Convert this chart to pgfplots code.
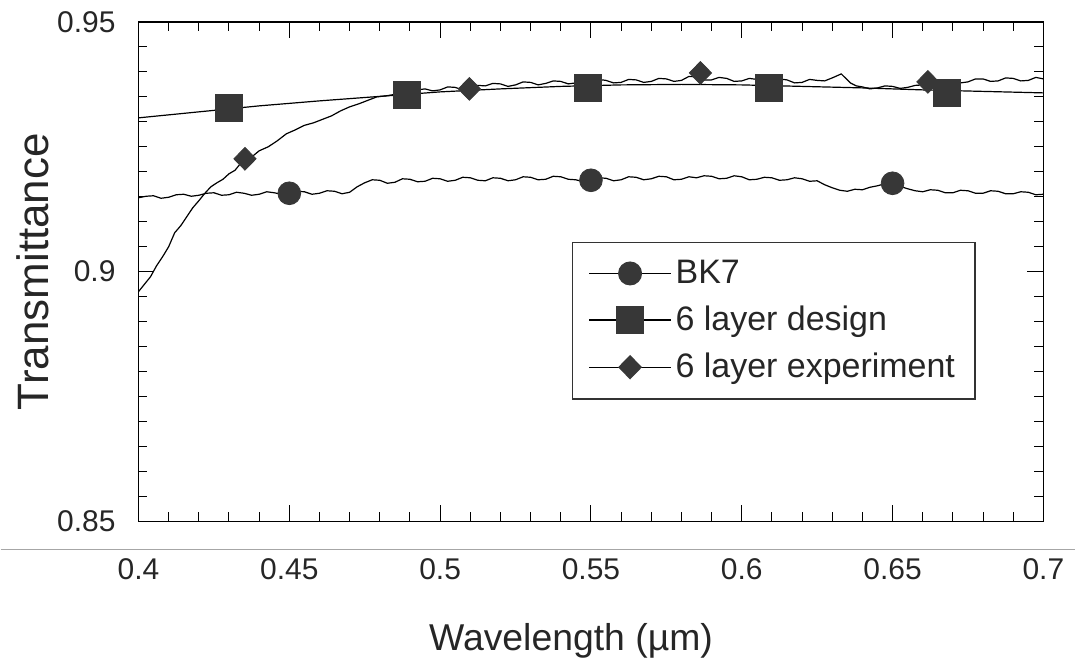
\documentclass[border=0pt]{standalone}
\usepackage{fontspec}
\setmainfont{Liberation Sans}
\usepackage{pgfplots}
\pgfplotsset{compat=1.18}
\definecolor{markgray}{RGB}{55,55,55}

\begin{document}
\begin{tikzpicture}
\begin{axis}[
    scale only axis,
    width=453pt,
    height=250pt,
    xmin=0.4, xmax=0.7,
    ymin=0.85, ymax=0.95,
    xtick={0.4,0.45,...,0.7},
    ytick={0.85,0.9,0.95},
    minor x tick num=4,
    minor y tick num=9,
    tick align=inside,
    major tick length=8pt,
    minor tick length=4.5pt,
    axis line style={line width=0.8pt},
    every tick/.style={black, line width=0.5pt},
    /pgf/number format/assume math mode=true,
    xticklabel style={font=\fontsize{15}{18}\selectfont, text=black!85},
    yticklabel style={font=\fontsize{15}{18}\selectfont, text=black!85},
    xticklabel shift=15pt,
    yticklabel shift=8pt,
    xticklabels={0.4,0.45,0.5,0.55,0.6,0.65,0.7},
    yticklabels={0.85,0.9,0.95},
    xlabel={Wavelength (µm)},
    ylabel={Transmittance},
    xlabel style={at={(axis description cs:0.478,-0.24)}, anchor=center,
        font=\fontsize{18.7}{22}\selectfont, text=black!85},
    ylabel style={at={(axis description cs:-0.117,0.5)}, anchor=center,
        font=\fontsize{22}{26}\selectfont, text=black!85},
    legend style={at={(0.479,0.56)}, anchor=north west,
        font=\fontsize{17}{20}\selectfont, text=black!85,
        draw=black!80, line width=0.6pt,
        inner xsep=8pt, inner ysep=7pt, row sep=5.8pt,
        legend cell align=left},
    legend image code/.code={
        \draw[#1, mark repeat=2, mark phase=2] plot coordinates {(0pt,0pt) (20.5pt,0pt) (41pt,0pt)};
    },
    clip=false,
]
% invisible frame so the page has the reference's proportions
\path (rel axis cs:-0.1523,-0.298) rectangle (rel axis cs:1.0353,1.044);
% scan edge line
\draw[black!35, line width=0.7pt] (rel axis cs:-0.1523,-0.056) -- (rel axis cs:1.0353,-0.056);

\addlegendimage{black, line width=0.6pt, mark=*, mark size=5.7pt, mark options={fill=markgray, draw=markgray}}
\addlegendentry{BK7}
\addlegendimage{black, line width=0.6pt, mark=square*, mark size=6.7pt, mark options={fill=markgray, draw=markgray}}
\addlegendentry{6 layer design}
\addlegendimage{black, line width=0.6pt, mark=diamond*, mark size=5.7pt, mark options={fill=markgray, draw=markgray, xscale=1.3}}
\addlegendentry{6 layer experiment}

% BK7 measured curve
\addplot[black, line width=0.6pt, no marks] coordinates {
(0.400,0.9148) (0.4025,0.9151) (0.405,0.9152) (0.4075,0.9147) (0.410,0.9149)
(0.4125,0.9154) (0.415,0.9155) (0.4175,0.9151) (0.420,0.9153) (0.4225,0.9157)
(0.425,0.9158) (0.4275,0.9153) (0.430,0.9154) (0.4325,0.9159) (0.435,0.9157)
(0.4375,0.9153) (0.440,0.9155) (0.4425,0.9160) (0.445,0.9158) (0.4475,0.9155)
(0.450,0.9156) (0.4525,0.9161) (0.455,0.9160) (0.4575,0.9155) (0.460,0.9157)
(0.4625,0.9162) (0.465,0.9161) (0.4675,0.9156) (0.470,0.9159) (0.4725,0.9170)
(0.475,0.9178) (0.4775,0.9184) (0.480,0.9183) (0.4825,0.9177) (0.485,0.9179)
(0.4875,0.9186) (0.490,0.9185) (0.4925,0.9180) (0.495,0.9181) (0.4975,0.9187)
(0.500,0.9186) (0.5025,0.9181) (0.505,0.9183) (0.5075,0.9189) (0.510,0.9188)
(0.5125,0.9183) (0.515,0.9182) (0.5175,0.9188) (0.520,0.9187) (0.5225,0.9182)
(0.525,0.9184) (0.5275,0.9190) (0.530,0.9189) (0.5325,0.9184) (0.535,0.9185)
(0.5375,0.9191) (0.540,0.9190) (0.5425,0.9185) (0.545,0.9184) (0.5475,0.9180)
(0.550,0.9183) (0.5525,0.9188) (0.555,0.9187) (0.5575,0.9182) (0.560,0.9184)
(0.5625,0.9190) (0.565,0.9189) (0.5675,0.9184) (0.570,0.9186) (0.5725,0.9191)
(0.575,0.9190) (0.5775,0.9184) (0.580,0.9185) (0.5825,0.9190) (0.585,0.9188)
(0.5875,0.9192) (0.590,0.9191) (0.5925,0.9186) (0.595,0.9187) (0.5975,0.9192)
(0.600,0.9190) (0.6025,0.9184) (0.605,0.9185) (0.6075,0.9189) (0.610,0.9188)
(0.6125,0.9183) (0.615,0.9184) (0.6175,0.9188) (0.620,0.9186) (0.6225,0.9181)
(0.625,0.9182) (0.6275,0.9174) (0.630,0.9168) (0.6325,0.9163) (0.635,0.9161)
(0.6375,0.9165) (0.640,0.9164) (0.6425,0.9169) (0.645,0.9172) (0.6475,0.9176)
(0.650,0.9177) (0.6525,0.9171) (0.655,0.9166) (0.6575,0.9162) (0.660,0.9160)
(0.6625,0.9164) (0.665,0.9163) (0.6675,0.9158) (0.670,0.9158) (0.6725,0.9163)
(0.675,0.9162) (0.6775,0.9157) (0.680,0.9157) (0.6825,0.9162) (0.685,0.9161)
(0.6875,0.9156) (0.690,0.9156) (0.6925,0.9160) (0.695,0.9159) (0.6975,0.9154)
(0.700,0.9155)
};
\addplot[only marks, mark=*, mark size=5.7pt, fill=markgray, draw=markgray, forget plot]
  coordinates {(0.45,0.9157) (0.55,0.9183) (0.65,0.9177)};

% 6 layer design (computed, smooth)
\addplot[black, line width=0.6pt, no marks] coordinates {
(0.40,0.9308) (0.42,0.9320) (0.44,0.9332) (0.46,0.9342) (0.48,0.9351)
(0.50,0.9360) (0.52,0.9366) (0.54,0.9371) (0.56,0.9374) (0.58,0.9375)
(0.60,0.9374) (0.62,0.9371) (0.64,0.9368) (0.66,0.9364) (0.68,0.9361)
(0.70,0.9358)
};
\addplot[only marks, mark=square*, mark size=6.7pt, fill=markgray, draw=markgray, forget plot]
  coordinates {(0.430,0.9328) (0.489,0.9354) (0.549,0.9368) (0.609,0.9368) (0.668,0.9358)};

% 6 layer experiment (measured)
\addplot[black, line width=0.6pt, no marks] coordinates {
(0.400,0.8960) (0.402,0.8975) (0.404,0.8990) (0.406,0.9012) (0.408,0.9030)
(0.410,0.9050) (0.412,0.9078) (0.414,0.9092) (0.416,0.9110) (0.418,0.9128)
(0.420,0.9142) (0.422,0.9157) (0.424,0.9170) (0.426,0.9178) (0.428,0.9185)
(0.430,0.9196) (0.432,0.9203) (0.434,0.9218) (0.436,0.9228) (0.438,0.9232)
(0.440,0.9242) (0.443,0.9250) (0.446,0.9262) (0.449,0.9276) (0.452,0.9284)
(0.455,0.9293) (0.458,0.9298) (0.461,0.9305) (0.464,0.9312) (0.467,0.9322)
(0.470,0.9330) (0.473,0.9336) (0.476,0.9343) (0.479,0.9350) (0.482,0.9352)
(0.485,0.9355) (0.4875,0.9358) (0.490,0.9360) (0.4925,0.9364) (0.495,0.9366)
(0.4975,0.9362) (0.500,0.9364) (0.5025,0.9370) (0.505,0.9369) (0.5075,0.9364)
(0.510,0.9367) (0.5125,0.9373) (0.515,0.9372) (0.5175,0.9377) (0.520,0.9376)
(0.5225,0.9371) (0.525,0.9374) (0.5275,0.9380) (0.530,0.9379) (0.5325,0.9374)
(0.535,0.9377) (0.5375,0.9382) (0.540,0.9381) (0.5425,0.9376) (0.545,0.9378)
(0.5475,0.9383) (0.550,0.9380) (0.5525,0.9385) (0.555,0.9383) (0.5575,0.9378)
(0.560,0.9379) (0.5625,0.9385) (0.565,0.9384) (0.5675,0.9379) (0.570,0.9381)
(0.5725,0.9387) (0.575,0.9386) (0.5775,0.9381) (0.580,0.9383) (0.5825,0.9391)
(0.585,0.9390) (0.5875,0.9384) (0.590,0.9384) (0.5925,0.9389) (0.595,0.9387)
(0.5975,0.9381) (0.600,0.9382) (0.6025,0.9387) (0.605,0.9385) (0.6075,0.9379)
(0.610,0.9380) (0.6125,0.9386) (0.615,0.9384) (0.6175,0.9378) (0.620,0.9379)
(0.6225,0.9385) (0.625,0.9383) (0.6275,0.9382) (0.630,0.9388) (0.633,0.9396)
(0.636,0.9378) (0.638,0.9372) (0.640,0.9370) (0.6425,0.9366) (0.645,0.9368)
(0.6475,0.9372) (0.650,0.9371) (0.6525,0.9367) (0.655,0.9369) (0.6575,0.9373)
(0.660,0.9374) (0.6625,0.9378) (0.665,0.9379) (0.6675,0.9384) (0.670,0.9383)
(0.6725,0.9378) (0.675,0.9380) (0.6775,0.9386) (0.680,0.9386) (0.6825,0.9381)
(0.685,0.9382) (0.6875,0.9388) (0.690,0.9387) (0.6925,0.9382) (0.695,0.9383)
(0.6975,0.9389) (0.700,0.9386)
};
\addplot[only marks, mark=diamond*, mark size=5.7pt, fill=markgray, draw=markgray,
  mark options={xscale=1.3}, forget plot]
  coordinates {(0.4353,0.9226) (0.5097,0.9366) (0.5863,0.9398) (0.6617,0.9380)};
\end{axis}
\end{tikzpicture}
\end{document}
